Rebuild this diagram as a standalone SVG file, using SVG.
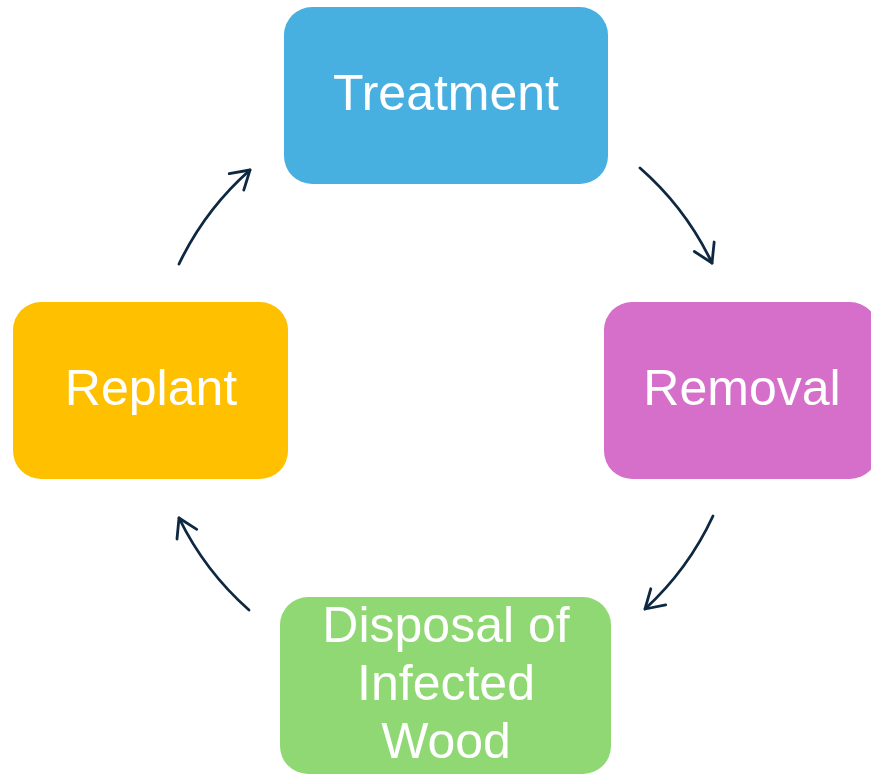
<svg xmlns="http://www.w3.org/2000/svg" width="871" height="774" viewBox="0 0 871 774">
<style>
.lbl{font-family:"Liberation Sans",Arial,sans-serif;font-size:50px;fill:#FFFFFF;text-anchor:middle}
.arc{fill:none;stroke:#0E2841;stroke-width:2.8;stroke-linecap:round;marker-end:url(#ah)}
</style>
<defs>
<marker id="ah" markerUnits="userSpaceOnUse" markerWidth="50" markerHeight="50" viewBox="-25 -25 50 50" refX="0" refY="0" orient="auto">
<path d="M-18,-11 L0,0 L-18,11" fill="none" stroke="#0E2841" stroke-width="2.8" stroke-linecap="round" stroke-linejoin="round"/>
</marker>
</defs>
<rect width="871" height="774" fill="#FFFFFF"/>
<g id="treatment">
<rect x="284" y="7" width="324" height="177" rx="28" fill="#47B0E0"/>
<text class="lbl" x="446" y="110">Treatment</text>
</g>
<g id="removal">
<rect x="604" y="302" width="274" height="177" rx="28" fill="#D56FC9"/>
<text class="lbl" x="742" y="405">Removal</text>
</g>
<g id="disposal">
<rect x="280" y="597" width="331" height="177" rx="28" fill="#8FD873"/>
<text class="lbl" x="446" y="642">Disposal of</text>
<text class="lbl" x="446" y="700">Infected</text>
<text class="lbl" x="446" y="758">Wood</text>
</g>
<g id="replant">
<rect x="13" y="302" width="275" height="177" rx="28" fill="#FFC000"/>
<text class="lbl" x="151" y="405">Replant</text>
</g>
<g id="connectors">
<path class="arc" d="M179,264 A295,295 0 0 1 250,170"/>
<path class="arc" d="M640,168 A295,295 0 0 1 712,263"/>
<path class="arc" d="M713,516 A295,295 0 0 1 645,609"/>
<path class="arc" d="M249,610 A295,295 0 0 1 179,518"/>
</g>
</svg>
